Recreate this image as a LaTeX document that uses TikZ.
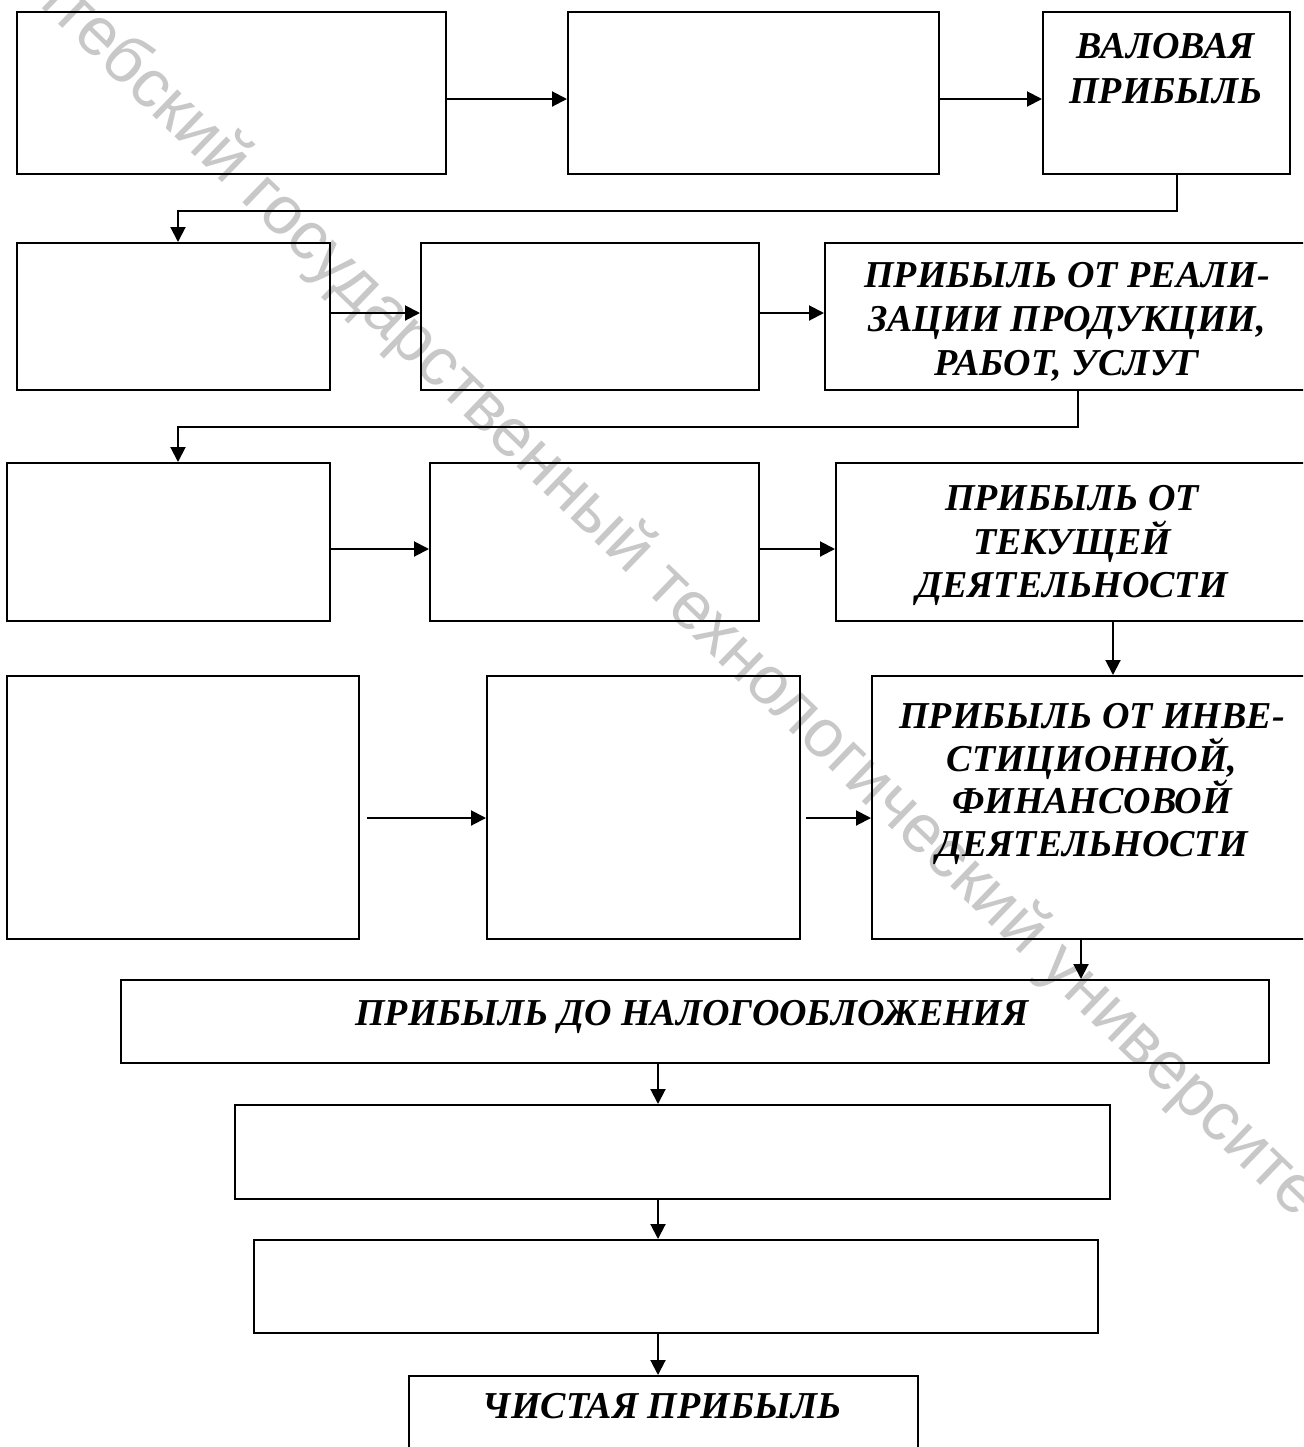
\documentclass[tikz,border=0pt]{standalone}
\usepackage{fontspec}
\setmainfont{Liberation Serif}
\newfontfamily\wmfont{Liberation Sans}
\usetikzlibrary{arrows.meta,fit}
\definecolor{wmgray}{RGB}{200,200,200}
\begin{document}
\begin{tikzpicture}[x=0.5pt,y=-0.5pt,
  box/.style={draw, line width=1pt, inner sep=0pt},
  lbl/.style={font=\fontsize{19}{22}\selectfont\bfseries\itshape, align=center, inner sep=0pt},
  arr/.style={line width=1pt, -{Triangle[length=7.5pt,width=7.5pt]}},
  wmark/.style={font=\wmfont\fontsize{34}{34}\selectfont, text=wmgray, rotate=-44, inner sep=0pt}]
\useasboundingbox (0,0) rectangle (1303,1447);
\clip (0,0) rectangle (1303,1447);
\fill[white] (0,0) rectangle (1303,1447);
% watermark
\node[wmark] (wm) at (666,586) {Витебский государственный технологический университет};
% boxes
\node[box, fit={(17,12) (446,174)}] (A1) {};
\node[box, fit={(568,12) (939,174)}] (A2) {};
\node[box, fit={(1043,12) (1290,174)}] (A3) {};
\node[box, fit={(17,243) (330,390)}] (B1) {};
\node[box, fit={(421,243) (759,390)}] (B2) {};
\node[box, fit={(825,243) (1312,390)}] (B3) {};
\node[box, fit={(7,463) (330,621)}] (C1) {};
\node[box, fit={(430,463) (759,621)}] (C2) {};
\node[box, fit={(836,463) (1312,621)}] (C3) {};
\node[box, fit={(7,676) (359,939)}] (D1) {};
\node[box, fit={(487,676) (800,939)}] (D2) {};
\node[box, fit={(872,676) (1312,939)}] (D3) {};
\node[box, fit={(121,980) (1269,1063)}] (E) {};
\node[box, fit={(235,1105) (1110,1199)}] (F) {};
\node[box, fit={(254,1240) (1098,1333)}] (G) {};
\node[box, fit={(409,1376) (918,1470)}] (H) {};
% texts
\node[lbl, font=\fontsize{19}{22.5}\selectfont\bfseries\itshape, anchor=north] (A3t) at (1166,33) {ВАЛОВАЯ\\ПРИБЫЛЬ};
\node[lbl, anchor=north] (B3t) at (1067,262) {ПРИБЫЛЬ ОТ РЕАЛИ-\\ЗАЦИИ ПРОДУКЦИИ,\\РАБОТ, УСЛУГ};
\node[lbl, font=\fontsize{19}{21.75}\selectfont\bfseries\itshape, anchor=north] (C3t) at (1072,485) {ПРИБЫЛЬ ОТ\\ТЕКУЩЕЙ\\ДЕЯТЕЛЬНОСТИ};
\node[lbl, font=\fontsize{19}{21.3}\selectfont\bfseries\itshape, anchor=north] (D3t) at (1092,703) {ПРИБЫЛЬ ОТ ИНВЕ-\\СТИЦИОННОЙ,\\ФИНАНСОВОЙ\\ДЕЯТЕЛЬНОСТИ};
\node[lbl, anchor=base] (Et) at (692,1025) {ПРИБЫЛЬ ДО НАЛОГООБЛОЖЕНИЯ};
\node[lbl, anchor=base] (Ht) at (662,1418) {ЧИСТАЯ ПРИБЫЛЬ};
% helper coordinates
\coordinate (yA) at (0,99);
\coordinate (yB) at (0,313);
\coordinate (yC) at (0,549);
\coordinate (yD) at (0,818);
\coordinate (k1) at (1177,211);
\coordinate (k2) at (178,211);
\coordinate (k3) at (1078,427);
\coordinate (k4) at (178,427);
\coordinate (xCD) at (1113,0);
\coordinate (xDE) at (1081,0);
\coordinate (xM) at (658,0);
% connectors
\draw[arr] (A1.east |- yA) -- (A2.west |- yA);
\draw[arr] (A2.east |- yA) -- (A3.west |- yA);
\draw[arr] (A3.south -| k1) -- (k1) -- (k2) -- (B1.north -| k2);
\draw[arr] (B1.east |- yB) -- (B2.west |- yB);
\draw[arr] (B2.east |- yB) -- (B3.west |- yB);
\draw[arr] (B3.south -| k3) -- (k3) -- (k4) -- (C1.north -| k4);
\draw[arr] (C1.east |- yC) -- (C2.west |- yC);
\draw[arr] (C2.east |- yC) -- (C3.west |- yC);
\draw[arr] (C3.south -| xCD) -- (D3.north -| xCD);
\draw[arr, shorten <=3.5pt] (D1.east |- yD) -- (D2.west |- yD);
\draw[arr, shorten <=2.5pt] (D2.east |- yD) -- (D3.west |- yD);
\draw[arr] (D3.south -| xDE) -- (E.north -| xDE);
\draw[arr] (E.south -| xM) -- (F.north -| xM);
\draw[arr] (F.south -| xM) -- (G.north -| xM);
\draw[arr] (G.south -| xM) -- (H.north -| xM);
\end{tikzpicture}
\end{document}
